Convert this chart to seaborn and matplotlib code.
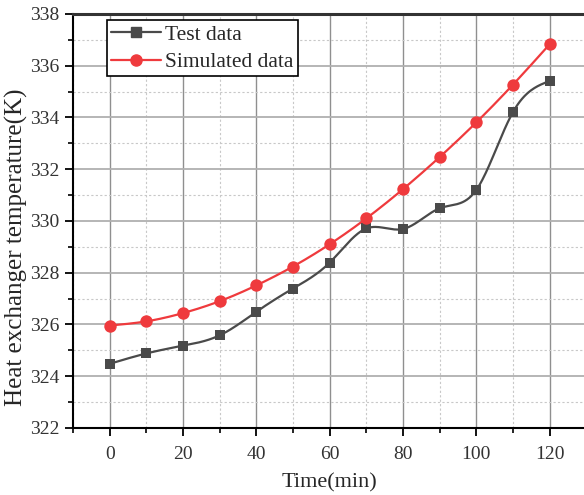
import numpy as np
import pandas as pd
import matplotlib
matplotlib.use("Agg")
import matplotlib.pyplot as plt
from matplotlib.lines import Line2D
from matplotlib.ticker import MultipleLocator
import seaborn as sns

time_min = [0, 10, 20, 30, 40, 50, 60, 70, 80, 90, 100, 110, 120]
test_data = [324.48, 324.88, 325.18, 325.58, 326.49, 327.39, 328.39, 329.71, 329.69, 330.49, 331.2, 334.21, 335.41]
simulated_data = [325.96, 326.12, 326.44, 326.9, 327.51, 328.24, 329.1, 330.1, 331.23, 332.47, 333.81, 335.27, 336.83]


def natural_spline(x, y, n=400):
    """Natural cubic spline through (x, y), sampled densely for a smooth curve."""
    x = np.asarray(x, float)
    y = np.asarray(y, float)
    k = len(x)
    h = np.diff(x)
    A = np.zeros((k, k))
    b = np.zeros(k)
    A[0, 0] = A[-1, -1] = 1.0
    for i in range(1, k - 1):
        A[i, i - 1] = h[i - 1]
        A[i, i] = 2 * (h[i - 1] + h[i])
        A[i, i + 1] = h[i]
        b[i] = 6 * ((y[i + 1] - y[i]) / h[i] - (y[i] - y[i - 1]) / h[i - 1])
    m = np.linalg.solve(A, b)
    xs = np.linspace(x[0], x[-1], n)
    idx = np.clip(np.searchsorted(x, xs) - 1, 0, k - 2)
    x0, x1 = x[idx], x[idx + 1]
    y0, y1 = y[idx], y[idx + 1]
    m0, m1 = m[idx], m[idx + 1]
    hh = x1 - x0
    t0 = x1 - xs
    t1 = xs - x0
    ys = (m0 * t0 ** 3 + m1 * t1 ** 3) / (6 * hh) + (y0 / hh - m0 * hh / 6) * t0 + (y1 / hh - m1 * hh / 6) * t1
    return xs, ys


sns.set_style("white")
plt.rcParams["font.family"] = ["Liberation Serif", "DejaVu Serif"]
plt.rcParams["mathtext.fontset"] = "stix"

fig = plt.figure(figsize=(5.84, 4.95), dpi=100)
ax = fig.add_axes([0.125, 0.1354, 0.879, 0.8364])

gray = "#4a4a4a"
red = "#ef3a3d"

# grid first so the data sits above it
ax.set_axisbelow(True)
ax.xaxis.set_major_locator(MultipleLocator(20))
ax.xaxis.set_minor_locator(MultipleLocator(10))
ax.yaxis.set_major_locator(MultipleLocator(2))
ax.yaxis.set_minor_locator(MultipleLocator(1))
ax.grid(which="major", axis="x", color="#8f8f8f", linewidth=1.0, linestyle="-")
ax.grid(which="major", axis="y", color="#b0b0b0", linewidth=1.3, linestyle="-")
ax.grid(which="minor", color="#c8c8c8", linewidth=0.8, linestyle=(0, (2, 2)))

for values, color, marker, msize in [(test_data, gray, "s", 62), (simulated_data, red, "o", 80)]:
    xs, ys = natural_spline(time_min, values)
    curve = pd.DataFrame({"t": xs, "v": ys})
    sns.lineplot(data=curve, x="t", y="v", ax=ax, color=color, linewidth=1.6, zorder=3)
    pts = pd.DataFrame({"t": time_min, "v": values})
    sns.scatterplot(data=pts, x="t", y="v", ax=ax, color=color, marker=marker, s=msize,
                    edgecolor=color, linewidth=0, zorder=4)

ax.set_xlim(-10, 130)
ax.set_ylim(322, 338)
ax.set_xticks([0, 20, 40, 60, 80, 100, 120])
ax.set_xlabel("Time(min)", fontsize=16, labelpad=7)
ax.set_ylabel("Heat exchanger temperature(K)", fontsize=18)
ax.yaxis.set_label_coords(-0.088, 0.437)

ax.tick_params(axis="both", which="major", direction="out", length=6, width=1.3,
               labelsize=14, colors="black", labelcolor="#333333")
ax.tick_params(axis="both", which="minor", direction="out", length=3.5, width=1.2, colors="black")
ax.tick_params(axis="both", which="both", top=False, right=False, bottom=True, left=True)
ax.tick_params(axis="x", which="major", pad=7)

for side in ["left", "bottom"]:
    ax.spines[side].set_color("black")
    ax.spines[side].set_linewidth(1.5)
ax.spines["top"].set_color("#333333")
ax.spines["top"].set_linewidth(2.2)
ax.spines["right"].set_visible(False)

handles = [
    Line2D([], [], color=gray, marker="s", markersize=7, linewidth=1.6, label="Test data"),
    Line2D([], [], color=red, marker="o", markersize=8, linewidth=1.6, label="Simulated data"),
]
leg = ax.legend(handles=handles, loc="upper left", bbox_to_anchor=(0.066, 0.985),
                fontsize=15.5, frameon=True, fancybox=False, framealpha=1,
                edgecolor="black", borderpad=0.2, handlelength=2.3, handletextpad=0.2,
                labelspacing=0.35, borderaxespad=0)
leg.get_frame().set_linewidth(1.2)

fig.savefig("out.png", dpi=100)
